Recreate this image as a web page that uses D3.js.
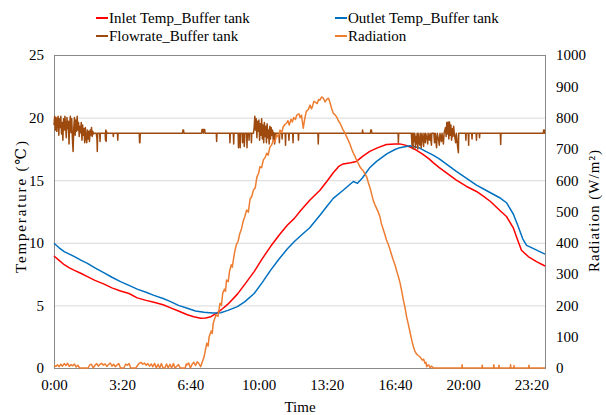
<!DOCTYPE html>
<html>
<head>
<meta charset="utf-8">
<script src="https://cdn.jsdelivr.net/npm/d3@7"></script>
<style>
  body { margin: 0; background: #fff; }
  svg text { font-family: "Liberation Serif", "DejaVu Serif", serif; fill: #000; }
</style>
</head>
<body>
<div id="chart"></div>
<script>
// data: [minute of day, value]
const inletTemp = [
  [0,8.95],[15,8.6],[30,8.25],[45,8.0],[60,7.8],[80,7.55],[98,7.3],[120,7.0],[147,6.7],[170,6.4],
  [195,6.15],[220,5.95],[244,5.6],[270,5.4],[293,5.25],[320,5.05],[342,4.8],[365,4.55],[391,4.25],
  [410,4.1],[430,3.97],[445,4.0],[460,4.1],[479,4.4],[495,4.75],[510,5.1],[538,5.9],[560,6.7],
  [587,7.7],[610,8.7],[635,9.7],[660,10.6],[684,11.4],[705,11.95],[721,12.5],[750,13.4],[780,14.2],
  [800,14.9],[819,15.6],[835,16.1],[848,16.3],[870,16.4],[887,16.5],[905,16.9],[926,17.3],
  [950,17.6],[975,17.85],[1000,17.9],[1014,17.9],[1030,17.8],[1044,17.65],[1060,17.45],[1080,17.1],
  [1100,16.7],[1112,16.4],[1130,16.0],[1150,15.6],[1180,15.0],[1210,14.5],[1239,14.1],[1260,13.7],
  [1280,13.3],[1307,12.6],[1327,12.1],[1347,11.2],[1360,10.2],[1371,9.4],[1391,8.9],[1415,8.5],
  [1440,8.15]
];
const outletTemp = [
  [0,9.96],[15,9.6],[30,9.3],[45,9.1],[60,8.9],[80,8.6],[98,8.36],[120,8.0],[147,7.6],[170,7.25],
  [195,6.9],[220,6.6],[244,6.3],[270,6.05],[293,5.8],[320,5.55],[342,5.3],[365,5.0],[391,4.77],
  [415,4.55],[440,4.45],[465,4.4],[489,4.42],[510,4.6],[538,4.9],[560,5.3],[587,5.95],[610,6.8],
  [635,7.8],[660,8.7],[684,9.5],[705,10.1],[721,10.5],[750,11.2],[780,12.2],[800,12.9],[819,13.55],
  [848,14.2],[865,14.6],[878,14.9],[890,14.75],[905,15.2],[926,16.0],[946,16.5],[976,17.1],
  [1000,17.45],[1014,17.6],[1044,17.75],[1070,17.6],[1090,17.3],[1112,17.0],[1130,16.7],[1150,16.3],
  [1180,15.7],[1210,15.15],[1239,14.6],[1260,14.3],[1280,14.0],[1307,13.6],[1327,13.2],[1347,12.3],
  [1360,11.4],[1375,10.3],[1386,9.8],[1405,9.55],[1420,9.35],[1440,9.1]
];
const flowRate = [
  [0,19.4],[2,20.1],[4,19.0],[6,20.0],[8,18.9],[10,19.8],[12,20.1],[14,18.6],[16,19.9],[18,19.2],
  [20,20.1],[22,18.7],[24,19.6],[26,18.2],[28,19.9],[30,19.0],[32,20.1],[34,19.3],[36,18.4],[38,20.0],
  [40,19.1],[42,19.7],[44,17.9],[46,19.5],[48,20.1],[50,18.8],[52,19.9],[54,18.3],[56,17.3],[58,19.2],
  [60,20.0],[62,18.6],[64,19.8],[66,18.9],[68,20.1],[70,19.0],[72,19.6],[74,18.5],[76,19.3],[78,18.8],
  [80,19.6],[82,18.2],[84,19.4],[86,18.6],[88,19.1],[90,18.0],[92,19.2],[94,18.4],[96,18.0],[98,19.0],
  [100,18.3],[102,18.9],[104,18.1],[106,19.0],[108,18.6],[110,19.2],[112,18.5],[114,18.9],[116,18.7],
  [118,18.75],[124,18.75],[126,18.3],[127,17.3],[128,18.75],[134,18.75],[135,18.1],[136,18.75],
  [150,18.75],[151,18.2],[152,19.0],[153,18.1],[154,18.9],[155,18.75],[173,18.75],[174,18.5],[175,18.75],
  [186,18.75],[187,18.2],[188,18.75],[250,18.75],[251,18.0],[252,18.0],[253,18.75],
  [377,18.75],[378,19.0],[380,19.0],[381,18.75],[433,18.75],[434,19.05],[437,19.05],[438,18.75],
  [439,19.05],[442,19.05],[443,18.75],[476,18.75],[477,18.1],[478,18.75],
  [515,18.75],[516,18.0],[517,18.75],[526,18.75],[527,17.9],[528,18.75],[540,18.75],[541,17.6],
  [542,18.75],[545,18.75],[546,17.6],[547,18.75],[552,18.75],[553,18.0],[554,18.75],[557,18.75],
  [558,17.7],[559,18.2],[560,18.75],[565,18.75],[566,17.6],[567,18.75],[571,18.75],[572,18.2],
  [573,18.75],[578,18.75],[579,18.0],[580,18.75],[585,18.75],
  [587,19.2],[589,20.1],[591,19.0],[593,19.9],[595,18.4],[597,19.7],[599,18.9],[601,19.8],[603,18.2],
  [605,19.5],[607,18.6],[609,19.9],[611,18.3],[613,19.4],[615,18.0],[617,19.6],[619,18.5],[621,19.3],
  [623,18.0],[625,19.5],[627,18.4],[629,19.0],[631,17.9],[633,19.3],[635,18.3],[637,19.2],[639,18.6],
  [641,19.0],[643,18.2],[645,18.8],[647,17.9],[649,18.75],
  [660,18.75],[661,18.0],[662,18.75],[668,18.75],[669,18.3],[670,18.75],[678,18.75],[679,17.8],
  [680,18.75],[688,18.75],[689,18.2],[690,18.75],[700,18.75],[701,18.0],[702,18.75],[716,18.75],
  [717,18.2],[718,18.75],[774,18.75],[775,17.9],[776,18.75],[904,18.75],[905,19.0],[906,18.75],
  [928,18.75],[929,19.0],[931,19.0],[932,18.75],[1009,18.75],[1010,18.0],[1011,18.75],
  [1048,18.75],[1050,17.8],[1051,18.75],[1053,17.5],[1054,18.75],[1057,18.1],[1058,18.75],[1060,17.6],
  [1061,18.5],[1063,17.9],[1065,18.75],[1067,17.5],[1068,18.75],[1071,18.0],[1073,17.8],[1074,18.75],
  [1077,17.6],[1079,18.75],[1082,18.2],[1084,17.7],[1085,18.75],[1089,18.0],[1090,18.75],[1094,18.3],
  [1096,17.9],[1097,18.75],[1101,18.2],[1103,18.75],[1107,17.8],[1108,18.75],
  [1114,18.75],[1116,18.0],[1118,18.75],[1122,17.6],[1124,18.75],[1128,18.2],[1130,17.8],[1132,18.75],
  [1136,18.1],[1138,18.75],[1142,17.9],[1144,18.75],[1148,19.2],[1150,18.5],[1152,19.6],[1154,18.7],
  [1156,19.65],[1158,18.3],[1160,19.65],[1162,18.6],[1164,19.4],[1166,18.2],[1168,19.1],[1170,18.5],
  [1172,19.3],[1174,18.75],[1178,18.0],[1180,18.75],[1184,17.6],[1186,17.2],[1187,18.75],
  [1207,18.75],[1208,18.2],[1209,18.75],[1215,18.75],[1216,17.8],[1217,18.75],[1225,18.75],
  [1226,18.3],[1227,18.75],[1238,18.75],[1239,18.2],[1240,18.75],[1247,18.75],[1248,18.4],[1249,18.75],
  [1309,18.75],[1310,17.85],[1311,18.75],[1435,18.75],[1436,19.0],[1438,19.0],[1439,18.75],[1440,18.75]
];
const radiation = [
  [0,8],[5,5],[10,10],[15,4],[20,12],[25,6],[30,14],[35,8],[40,15],[45,5],[50,11],[55,7],[60,13],
  [65,3],[70,9],[75,0],[100,0],[105,10],[110,12],[115,0],[120,8],[125,14],[130,6],[135,12],[140,15],
  [145,9],[150,13],[155,5],[160,11],[165,16],[170,6],[175,12],[180,4],[185,10],[190,14],[195,0],
  [205,0],[210,12],[215,9],[220,14],[225,0],[240,0],[245,8],[250,15],[255,18],[260,12],[265,16],
  [270,9],[275,14],[280,6],[285,13],[290,4],[295,15],[300,0],[305,12],[310,0],[315,14],[320,0],
  [325,0],[330,13],[335,0],[340,12],[345,0],[350,14],[355,0],[365,11],[370,0],[385,0],[388,13],
  [390,10],[395,16],[400,0],[405,12],[410,18],[415,8],[420,20],[425,14],[430,4],
  [440,35],[448,79],[452,70],[455,100],[461,118],[464,110],[467,143],[475,170],[481,165],[487,207],
  [491,200],[495,240],[500,252],[503,245],[506,281],[511,276],[515,310],[520,330],[523,322],[526,345],
  [530,372],[535,395],[540,405],[545,430],[550,445],[555,470],[560,485],[565,505],[570,498],[575,540],
  [580,548],[585,569],[590,575],[595,610],[600,622],[604,643],[609,640],[614,665],[619,672],[624,686],
  [628,680],[633,705],[638,712],[643,728],[648,722],[653,745],[658,738],[663,760],[668,752],[672,770],
  [677,778],[682,782],[686,790],[690,776],[695,795],[699,786],[703,800],[708,794],[712,808],[718,812],
  [722,800],[726,808],[728,790],[731,766],[736,800],[740,820],[746,826],[751,840],[755,828],[758,835],
  [762,852],[765,850],[772,845],[776,858],[780,856],[785,866],[790,862],[795,850],[800,858],[805,862],
  [809,850],[814,830],[819,814],[825,808],[830,800],[834,790],[839,782],[844,770],[848,760],[853,752],
  [858,739],[863,728],[868,715],[873,700],[878,686],[883,676],[887,665],[892,655],[897,643],[902,636],
  [907,630],[912,620],[917,611],[922,592],[927,575],[931,558],[936,537],[941,522],[946,510],[951,498],
  [956,483],[960,462],[965,445],[970,428],[975,409],[980,396],[985,380],[990,362],[995,345],[1000,330],
  [1005,310],[1010,292],[1015,271],[1020,245],[1025,215],[1030,190],[1034,164],[1039,140],[1044,115],
  [1049,90],[1054,68],[1058,55],[1063,45],[1068,40],[1073,36],[1077,30],[1080,25],[1084,28],[1088,15],
  [1091,18],[1093,4],[1097,10],[1100,8],[1103,0],[1107,6],[1110,3],[1113,0],
  [1196,0],[1197,10],[1198,0],[1255,0],[1256,9],[1257,0],[1289,0],[1290,10],[1291,0],[1304,0],
  [1305,9],[1306,0],[1338,0],[1339,10],[1340,0],[1348,0],[1349,8],[1350,0],[1392,0],[1393,9],
  [1394,0],[1440,0]
];

const timeTicks = [0, 200, 400, 600, 800, 1000, 1200, 1400];
const tempTicks = [0, 5, 10, 15, 20, 25];
const radTicks = [0, 100, 200, 300, 400, 500, 600, 700, 800, 900, 1000];

const seriesNames = ['Inlet Temp_Buffer tank', 'Outlet Temp_Buffer tank', 'Flowrate_Buffer tank', 'Radiation'];
const seriesColors = ['#FF0000', '#0070C0', '#9E4A0E', '#ED7D31'];

const W = 606, H = 415;
const plot = {left: 54, right: 545, top: 55, bottom: 368};
const FONT = '"Liberation Serif", "DejaVu Serif", serif';

window.onload = () => {
  const svg = d3.select('#chart').append('svg')
    .attr('width', W)
    .attr('height', H)
    .attr('font-family', FONT);

  const x = d3.scaleLinear().domain([0, 1440]).range([plot.left, plot.right]);
  const yL = d3.scaleLinear().domain([0, 25]).range([plot.bottom, plot.top]);
  const yR = d3.scaleLinear().domain([0, 1000]).range([plot.bottom, plot.top]);

  const fmtTime = m => Math.floor(m / 60) + ':' + String(m % 60).padStart(2, '0');

  // grid lines
  svg.append('g')
    .selectAll('line')
    .data(tempTicks.filter(t => t > 0 && t < 25))
    .enter()
    .append('line')
    .attr('x1', plot.left).attr('x2', plot.right)
    .attr('y1', d => yL(d) + 0.5).attr('y2', d => yL(d) + 0.5)
    .attr('stroke', '#D9D9D9')
    .attr('stroke-width', 1);

  // plot border
  svg.append('rect')
    .attr('x', plot.left + 0.5).attr('y', plot.top + 0.5)
    .attr('width', plot.right - plot.left).attr('height', plot.bottom - plot.top)
    .attr('fill', 'none')
    .attr('stroke', '#898989')
    .attr('stroke-width', 1);

  // axes
  const axL = svg.append('g')
    .attr('transform', `translate(${plot.left},0)`)
    .call(d3.axisLeft(yL).tickValues(tempTicks).tickSize(0).tickPadding(10));
  const axR = svg.append('g')
    .attr('transform', `translate(${plot.right},0)`)
    .call(d3.axisRight(yR).tickValues(radTicks).tickFormat(d3.format('d')).tickSize(0).tickPadding(11));
  const axB = svg.append('g')
    .attr('transform', `translate(0,${plot.bottom})`)
    .call(d3.axisBottom(x).tickValues(timeTicks).tickFormat(fmtTime).tickSize(0).tickPadding(11));

  [axL, axR, axB].forEach(ax => {
    ax.attr('font-family', FONT).attr('font-size', 15);
    ax.select('.domain').remove();
    ax.selectAll('text').attr('fill', '#000');
  });

  // series lines
  const lineL = d3.line().x(d => x(d[0])).y(d => yL(d[1]));
  const lineR = d3.line().x(d => x(d[0])).y(d => yR(d[1]));

  const lines = [
    {data: inletTemp, gen: lineL},
    {data: outletTemp, gen: lineL},
    {data: flowRate, gen: lineL},
    {data: radiation, gen: lineR}
  ];

  svg.append('g')
    .selectAll('path')
    .data(lines)
    .enter()
    .append('path')
    .attr('d', d => d.gen(d.data))
    .attr('fill', 'none')
    .attr('stroke', (d, i) => seriesColors[i])
    .attr('stroke-width', 1.5)
    .attr('stroke-linejoin', 'round');

  // axis titles
  svg.append('text')
    .attr('transform', 'translate(26,207) rotate(-90)')
    .attr('text-anchor', 'middle')
    .attr('textLength', 132)
    .attr('font-size', 15)
    .text('Temperature (℃)');

  svg.append('text')
    .attr('transform', 'translate(599,211) rotate(-90)')
    .attr('text-anchor', 'middle')
    .attr('textLength', 122)
    .attr('font-size', 15)
    .text('Radiation (W/m²)');

  svg.append('text')
    .attr('x', 300).attr('y', 412)
    .attr('text-anchor', 'middle')
    .attr('font-size', 15)
    .text('Time');

  // legend
  const legPos = [[96, 18], [335, 18], [96, 36], [335, 36]];
  const leg = svg.append('g')
    .selectAll('g')
    .data(seriesNames)
    .enter()
    .append('g')
    .attr('transform', (d, i) => `translate(${legPos[i][0]},${legPos[i][1]})`);

  leg.append('line')
    .attr('x1', 0).attr('x2', 12)
    .attr('stroke', (d, i) => seriesColors[i])
    .attr('stroke-width', 2);

  leg.append('text')
    .attr('x', 13)
    .attr('dy', '0.35em')
    .attr('font-size', 15)
    .text(d => d);
};
</script>
</body>
</html>
